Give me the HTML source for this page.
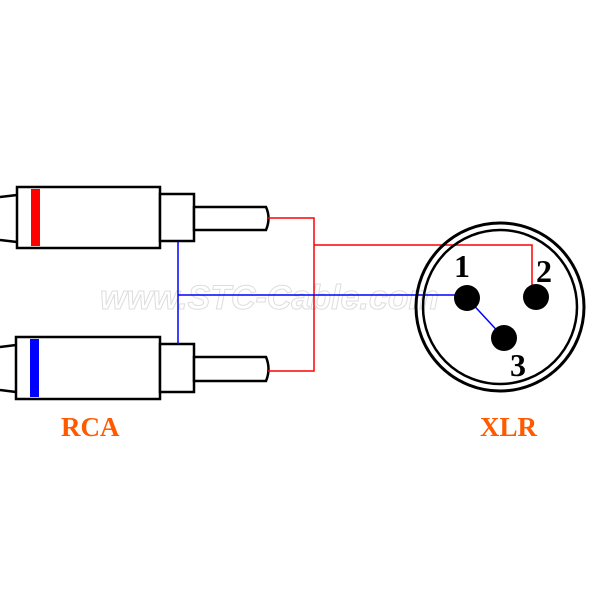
<!DOCTYPE html>
<html><head><style>html,body{margin:0;padding:0;background:#fff;width:600px;height:600px;overflow:hidden}</style></head><body>
<svg width="600" height="600" viewBox="0 0 600 600" xmlns="http://www.w3.org/2000/svg">
<rect width="600" height="600" fill="#fff"/>
<text x="100" y="309" font-family="Liberation Sans, sans-serif" font-size="34" font-weight="bold" font-style="italic" fill="none" stroke="#ddd" stroke-width="1">www.STC-Cable.com</text>
<g stroke="#000" stroke-width="2.5" fill="#fff">
<line x1="0" y1="197" x2="17" y2="195"/><line x1="0" y1="240" x2="17" y2="242"/>
<rect x="17" y="187" width="143" height="61"/>
<rect x="160" y="194" width="34" height="47"/>
<path d="M194 207 H266 Q271 218 266 230 H194 Z"/>
<line x1="0" y1="347" x2="16" y2="345"/><line x1="0" y1="390" x2="16" y2="392"/>
<rect x="16" y="337" width="144" height="62"/>
<rect x="160" y="344" width="34" height="48"/>
<path d="M194 357 H266 Q271 369 266 381 H194 Z"/>
</g>
<rect x="31" y="189" width="9" height="57" fill="#f00"/>
<rect x="30" y="339" width="9" height="58" fill="#00f"/>
<g fill="none" stroke-width="1.5">
<path d="M268 218 H314 V371 H268" stroke="#f00"/>
<path d="M314 245 H532 V292" stroke="#f00"/>
<path d="M178 242 V344 M178 295 H460" stroke="#00f"/>
<path d="M467 298 L504 338" stroke="#00f"/>
</g>
<circle cx="500" cy="307" r="84" fill="none" stroke="#000" stroke-width="3"/>
<circle cx="500" cy="307" r="77" fill="none" stroke="#000" stroke-width="2.5"/>
<circle cx="467" cy="298" r="13"/>
<circle cx="536" cy="297" r="13"/>
<circle cx="504" cy="338" r="13"/>
<g font-family="Liberation Serif, serif" font-weight="bold" font-size="32">
<text x="454" y="277">1</text>
<text x="536" y="282">2</text>
<text x="510" y="376">3</text>
<text x="61" y="436" fill="#ff5a00" font-size="27">RCA</text>
<text x="480" y="436" fill="#ff5a00" font-size="27">XLR</text>
</g>
</svg>
</body></html>
